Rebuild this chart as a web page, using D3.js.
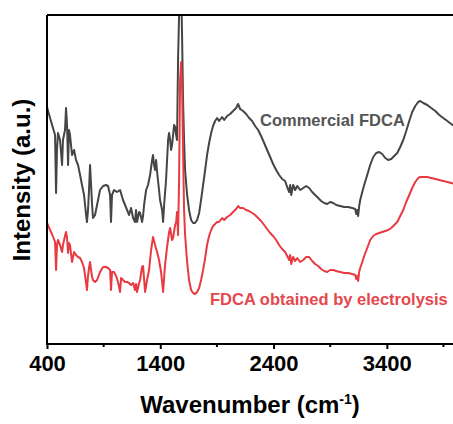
<!DOCTYPE html>
<html>
<head>
<meta charset="utf-8">
<script src="https://cdn.jsdelivr.net/npm/d3@7"></script>
<style>
  body { margin: 0; background: #fff; }
  svg { font-family: Arial, "Liberation Sans", sans-serif; }
</style>
</head>
<body>
<svg id="chart" width="453" height="424"></svg>
<script>
// wavenumber (cm-1) and intensity (a.u.)
var commercialWave = [400,427,453,471,480,488,497,515,533,541,559,568,577,586,594,603,621,639,656,674,692,709,727,745,753,762,771,780,789,798,806,824,842,868,895,921,939,957,965,974,992,1018,1045,1071,1089,1107,1124,1142,1160,1177,1186,1195,1213,1222,1239,1248,1257,1275,1292,1310,1328,1336,1345,1354,1363,1372,1389,1398,1416,1425,1434,1451,1469,1478,1487,1495,1504,1513,1522,1531,1540,1548,1557,1566,1575,1584,1593,1601,1610,1619,1637,1654,1672,1690,1707,1725,1743,1760,1778,1796,1813,1831,1849,1866,1884,1902,1919,1946,1964,1990,2017,2034,2052,2070,2087,2105,2131,2158,2184,2211,2237,2264,2290,2317,2343,2370,2396,2423,2449,2476,2502,2520,2538,2547,2556,2573,2591,2609,2635,2662,2688,2714,2741,2767,2794,2820,2847,2873,2900,2927,2953,2988,3024,3059,3094,3121,3130,3139,3147,3156,3165,3183,3200,3227,3253,3280,3306,3333,3359,3386,3412,3439,3465,3492,3518,3545,3571,3598,3624,3651,3677,3695,3722,3757,3792,3828,3863,3898,3934,3969,4004];
var commercialInt = [2.37,2.26,2.16,2.09,1.51,1.94,2.11,2.04,1.79,2.04,2.14,2.36,2.19,1.79,2.14,2.09,1.89,1.94,1.84,1.79,1.69,1.59,1.49,1.29,1.22,1.34,1.54,1.79,1.59,1.39,1.26,1.29,1.39,1.54,1.58,1.59,1.58,1.49,1.22,1.49,1.54,1.52,1.54,1.44,1.39,1.34,1.29,1.36,1.26,1.22,1.34,1.22,1.32,1.31,1.22,1.28,1.39,1.54,1.59,1.69,1.84,1.89,1.79,1.74,1.84,1.72,1.54,1.44,1.34,1.22,1.39,1.64,2.04,2.11,2.04,1.94,1.99,2.09,2.19,2.17,2.09,2.04,2.84,3.29,3.6,3.6,3.04,2.44,2.04,1.74,1.49,1.34,1.24,1.21,1.21,1.24,1.31,1.44,1.59,1.74,1.89,2.01,2.11,2.18,2.23,2.26,2.23,2.27,2.24,2.28,2.30,2.32,2.34,2.36,2.40,2.35,2.33,2.30,2.26,2.23,2.18,2.14,2.08,2.01,1.94,1.87,1.80,1.74,1.69,1.65,1.63,1.57,1.52,1.59,1.49,1.59,1.54,1.58,1.54,1.56,1.58,1.56,1.52,1.49,1.46,1.43,1.41,1.40,1.42,1.41,1.39,1.38,1.37,1.37,1.36,1.35,1.30,1.34,1.28,1.38,1.44,1.52,1.59,1.69,1.79,1.87,1.91,1.92,1.90,1.86,1.84,1.85,1.88,1.91,1.97,2.04,2.13,2.23,2.32,2.38,2.42,2.43,2.41,2.39,2.36,2.33,2.29,2.26,2.23,2.20,2.17];

var electroWave = [400,427,444,471,480,488,497,515,533,541,559,568,577,586,594,603,621,639,656,674,692,709,727,745,753,762,771,780,789,798,806,824,842,868,895,921,939,957,965,974,992,1010,1027,1045,1054,1071,1089,1107,1124,1142,1160,1177,1186,1195,1213,1222,1239,1248,1266,1283,1301,1319,1336,1354,1372,1389,1407,1425,1442,1460,1478,1487,1504,1513,1531,1540,1548,1557,1566,1575,1584,1593,1601,1610,1619,1637,1654,1672,1690,1707,1725,1743,1760,1778,1796,1813,1831,1849,1866,1884,1902,1919,1946,1964,1990,2017,2034,2052,2070,2087,2105,2131,2158,2184,2211,2237,2264,2290,2317,2343,2370,2396,2423,2449,2476,2502,2520,2538,2547,2556,2573,2591,2609,2635,2662,2688,2714,2741,2767,2794,2820,2847,2873,2900,2927,2953,2988,3024,3059,3094,3121,3130,3139,3147,3156,3165,3183,3200,3227,3253,3280,3306,3333,3359,3386,3412,3439,3465,3492,3518,3545,3571,3598,3624,3651,3677,3695,3722,3757,3792,3828,3863,3898,3934,3969,4004];
var electroInt = [1.21,1.14,1.10,1.02,0.74,0.99,1.04,0.99,0.92,0.99,1.08,1.12,1.06,0.91,1.01,0.99,0.82,0.92,0.89,0.87,0.86,0.82,0.76,0.61,0.54,0.68,0.76,0.82,0.74,0.67,0.64,0.62,0.64,0.72,0.77,0.77,0.76,0.74,0.54,0.72,0.72,0.68,0.62,0.52,0.66,0.64,0.62,0.62,0.61,0.59,0.61,0.54,0.60,0.52,0.61,0.64,0.77,0.78,0.52,0.64,0.74,0.94,1.07,0.99,0.92,0.84,0.72,0.52,0.79,0.97,1.12,1.16,1.04,1.06,1.19,1.22,1.32,1.09,1.64,2.64,2.82,2.54,1.94,1.34,1.09,0.82,0.64,0.54,0.51,0.50,0.52,0.56,0.64,0.74,0.86,0.99,1.08,1.14,1.18,1.20,1.22,1.22,1.26,1.24,1.27,1.29,1.31,1.33,1.35,1.38,1.36,1.36,1.34,1.33,1.31,1.29,1.26,1.23,1.19,1.15,1.11,1.08,1.04,0.99,0.95,0.92,0.88,0.84,0.89,0.80,0.87,0.83,0.86,0.82,0.84,0.87,0.87,0.83,0.80,0.78,0.75,0.73,0.72,0.74,0.74,0.73,0.72,0.71,0.71,0.70,0.69,0.65,0.68,0.63,0.72,0.76,0.82,0.88,0.96,1.04,1.08,1.10,1.11,1.12,1.13,1.14,1.16,1.19,1.22,1.28,1.34,1.42,1.49,1.56,1.62,1.66,1.67,1.67,1.67,1.66,1.65,1.64,1.63,1.62,1.61,1.60];

var majorTicks = [400, 1400, 2400, 3400];
var minorTicks = [900, 1900, 2900, 3900];
var labelCommercial = "Commercial FDCA";
var labelElectro = "FDCA obtained by electrolysis";

var svg = d3.select("#chart"),
    margin = { left: 47, top: 15, bottom: 344 };
var x = d3.scaleLinear().domain([400, 4000]).range([47, 454.8]);
var y = d3.scaleLinear().domain([0, 3.29]).range([344, 15]);

svg.append("clipPath").attr("id", "plot-clip")
    .append("rect")
    .attr("x", margin.left).attr("y", margin.top)
    .attr("width", 460 - margin.left).attr("height", margin.bottom - margin.top);

var line = d3.line()
    .x(d => x(d[0]))
    .y(d => y(d[1]));

var series = [
    { wave: commercialWave, val: commercialInt, color: "#454545" },
    { wave: electroWave, val: electroInt, color: "#e83a40" }
];
series.forEach(function (s) {
    svg.append("path")
        .datum(s.wave.map((w, i) => [w, s.val[i]]))
        .attr("clip-path", "url(#plot-clip)")
        .attr("fill", "none")
        .attr("stroke", s.color)
        .attr("stroke-width", 2)
        .attr("stroke-linejoin", "round")
        .attr("d", line);
});

// frame: top and left lines (no y ticks)
svg.append("line")
    .attr("x1", margin.left).attr("x2", 460)
    .attr("y1", margin.top).attr("y2", margin.top)
    .attr("stroke", "#000").attr("stroke-width", 2);
svg.append("line")
    .attr("x1", margin.left).attr("x2", margin.left)
    .attr("y1", margin.top).attr("y2", margin.bottom)
    .attr("stroke", "#000").attr("stroke-width", 2);

// x axis
var xAxis = svg.append("g")
    .attr("transform", `translate(0,${margin.bottom})`)
    .call(d3.axisBottom(x).tickValues(majorTicks).tickSize(5).tickPadding(6).tickFormat(d3.format("d")));
xAxis.select(".domain").attr("stroke-width", 2).attr("d", "M46,0H460");
xAxis.selectAll(".tick line").attr("stroke-width", 2);
xAxis.selectAll(".tick text")
    .attr("font-size", "22px")
    .attr("font-weight", "bold")
    .attr("font-family", "Arial, 'Liberation Sans', sans-serif")
    .attr("fill", "#000");

svg.append("g")
    .attr("transform", `translate(0,${margin.bottom})`)
    .selectAll("line")
    .data(minorTicks)
    .join("line")
    .attr("x1", d => x(d)).attr("x2", d => x(d))
    .attr("y1", 0).attr("y2", 3)
    .attr("stroke", "#000").attr("stroke-width", 2);

// axis titles
var title = svg.append("text")
    .attr("x", 250).attr("y", 413)
    .attr("text-anchor", "middle")
    .attr("font-size", "24px")
    .attr("font-weight", "bold")
    .text("Wavenumber (cm");
title.append("tspan").attr("dy", -9).attr("font-size", "14px").text("-1");
title.append("tspan").attr("dy", 9).text(")");

svg.append("text")
    .attr("transform", "translate(30,180) rotate(-90)")
    .attr("text-anchor", "middle")
    .attr("font-size", "24px")
    .attr("font-weight", "bold")
    .text("Intensity (a.u.)");

// series labels
svg.append("text")
    .attr("x", 260).attr("y", 126)
    .attr("font-size", "16.5px")
    .attr("font-weight", "bold")
    .attr("fill", "#555")
    .text(labelCommercial);
svg.append("text")
    .attr("x", 210).attr("y", 305)
    .attr("font-size", "16.5px")
    .attr("font-weight", "bold")
    .attr("fill", "#e4484e")
    .text(labelElectro);
</script>
</body>
</html>
